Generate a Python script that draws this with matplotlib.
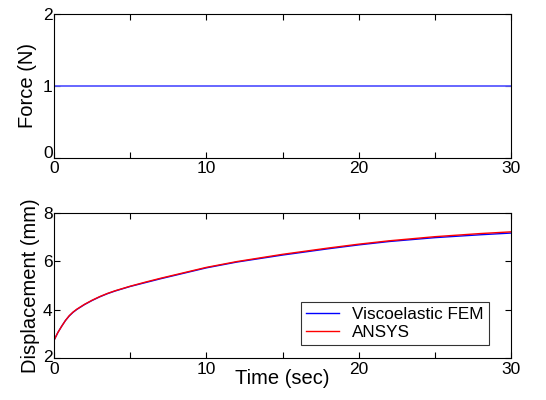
import matplotlib
matplotlib.use("Agg")
import matplotlib.pyplot as plt
import matplotlib.transforms as mtransforms
import numpy as np

plt.rcParams['font.family'] = ['Liberation Sans', 'DejaVu Sans']

# Data
force_t = [0, 30]
force_v = [1, 1]

time = [0, 0.1, 0.25, 0.5, 0.75, 1, 1.25, 1.5, 2, 2.5, 3, 3.5, 4, 5, 6, 7, 8, 10, 12, 15, 18, 20, 22, 25, 28, 30]
fem = [2.73, 2.86, 3.05, 3.31, 3.55, 3.74, 3.89, 4.01, 4.21, 4.38, 4.53, 4.66, 4.77, 4.96, 5.12, 5.28, 5.43, 5.73, 5.97, 6.26, 6.52, 6.68, 6.82, 6.98, 7.10, 7.17]
ansys = [2.73, 2.86, 3.05, 3.31, 3.55, 3.75, 3.90, 4.02, 4.22, 4.39, 4.54, 4.67, 4.78, 4.97, 5.14, 5.30, 5.45, 5.75, 5.99, 6.29, 6.55, 6.71, 6.85, 7.02, 7.15, 7.22]

xticks = [0, 10, 20, 30]
force_yticks = [0, 1, 2]
disp_yticks = [2, 4, 6, 8]

fig = plt.figure(figsize=(5.46, 4.0), dpi=100)
W, H = 546, 400
ax1 = fig.add_axes([54 / W, 1 - 158 / H, (511 - 54) / W, (158 - 14) / H])
ax2 = fig.add_axes([54 / W, 1 - 358 / H, (511 - 54) / W, (358 - 213) / H])

for ax in (ax1, ax2):
    ax.set_xlim(0, 30)
    ax.set_xticks(xticks)
    ax.set_xticks([5, 15, 25], minor=True)
    ax.tick_params(which='both', direction='in', top=True, right=True, labelsize=12.5)
    ax.tick_params(axis='y', pad=1)
    ax.tick_params(which='major', length=4, width=0.8)
    ax.tick_params(which='minor', length=4, width=0.8)
    for s in ax.spines.values():
        s.set_linewidth(0.8)
ax1.tick_params(axis='x', pad=2)
ax2.tick_params(axis='x', pad=3)

ax1.plot(force_t, force_v, color='#5a5aff', lw=1.3)
ax1.set_ylim(0, 2)
ax1.set_yticks(force_yticks)
ax1.set_ylabel('Force (N)', fontsize=14.5, labelpad=4)

ax2.plot(time, fem, color='#0000ff', lw=1.0, label='Viscoelastic FEM')
ax2.plot(time, ansys, color='#ff0000', lw=1.0, label='ANSYS')
ax2.set_ylim(2, 8)
ax2.set_yticks(disp_yticks)
ax2.set_ylabel('Displacement (mm)', fontsize=14.5, labelpad=2)
ax2.set_xlabel('Time (sec)', fontsize=14.5, labelpad=-6)
leg = ax2.legend(loc='lower right', bbox_to_anchor=(0.952, 0.09), fontsize=12.3, frameon=True,
                 fancybox=False, edgecolor='black', handlelength=1.9, borderpad=0.3,
                 labelspacing=0.15, handletextpad=0.8, borderaxespad=0)
leg.get_frame().set_linewidth(0.8)

# nudge lowest y tick labels upward (as in reference)
fig.canvas.draw()
lbl = ax1.get_yticklabels()[0]
lbl.set_transform(lbl.get_transform() + mtransforms.ScaledTranslation(0, 6 / 100, fig.dpi_scale_trans))
lbl2 = ax2.get_yticklabels()[0]
lbl2.set_transform(lbl2.get_transform() + mtransforms.ScaledTranslation(0, 2 / 100, fig.dpi_scale_trans))

fig.savefig('out.png', dpi=100)
